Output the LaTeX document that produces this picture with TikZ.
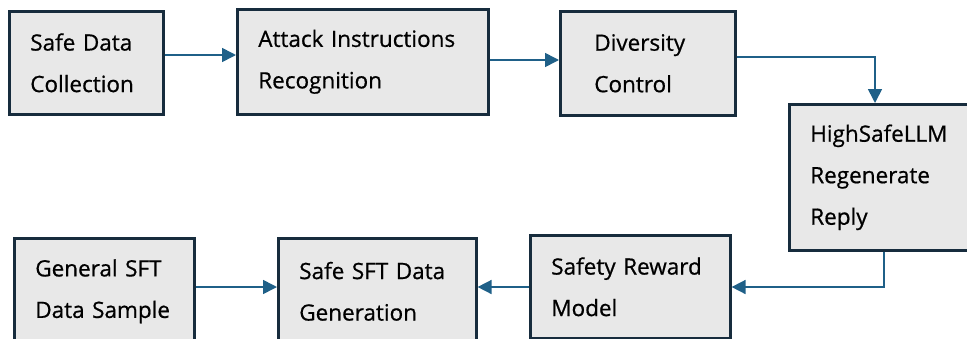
\documentclass[tikz,border=0pt]{standalone}
\usepackage{fontspec}
\setmainfont{Open Sans}[FakeBold=0.7]
\usetikzlibrary{arrows.meta}
\definecolor{boxfill}{HTML}{E8E8E8}
\definecolor{boxline}{HTML}{172C3D}
\definecolor{arrcol}{HTML}{1F6088}
\tikzset{
  box/.style={draw=boxline, fill=boxfill, line width=2.6pt, anchor=north west,
    align=left, inner xsep=21pt, inner ysep=0pt,
    font=\fontsize{22.5}{41.5}\selectfont, text=black},
  arr/.style={draw=arrcol, line width=1.6pt, -{Triangle[length=14pt,width=14pt]}}
}
\begin{document}
\begin{tikzpicture}[x=1pt,y=-1pt]
\useasboundingbox (0,0) rectangle (967,338);
\begin{scope}
\clip (0,0) rectangle (967,338);
\node[box, text width=112pt, minimum height=103pt] (b1) at (8,10) {Safe Data\\Collection};
\node[box, text width=209pt, minimum height=105pt] (b2) at (236,8) {Attack Instructions\\Recognition};
\node[box, text width=107pt, inner xsep=34pt, minimum height=104pt] (b3) at (559,10) {Diversity\\Control};
\node[box, text width=145pt, minimum height=146pt] (b4) at (788,103) {HighSafeLLM\\Regenerate\\Reply};
\node[box, text width=158pt, minimum height=103pt] (b5) at (529,234) {Safety Reward\\Model};
\node[box, text width=156pt, minimum height=106pt] (b6) at (277,237) {Safe SFT Data\\Generation};
\node[box, text width=138pt, minimum height=106pt] (b7) at (13,237) {General SFT\\Data Sample};
\draw[arr] (b1.east |- 0,55) -- (b2.west |- 0,55);
\draw[arr] (b2.east |- 0,60) -- (b3.west |- 0,60);
\draw[arr] (b3.east |- 0,57) -| (b4.north -| 875,0);
\draw[arr] (b4.south -| 884,0) |- (b5.east |- 0,287);
\draw[arr] (b5.west |- 0,287) -- (b6.east |- 0,287);
\draw[arr] (b7.east |- 0,287) -- (b6.west |- 0,287);
\end{scope}
\end{tikzpicture}
\end{document}
